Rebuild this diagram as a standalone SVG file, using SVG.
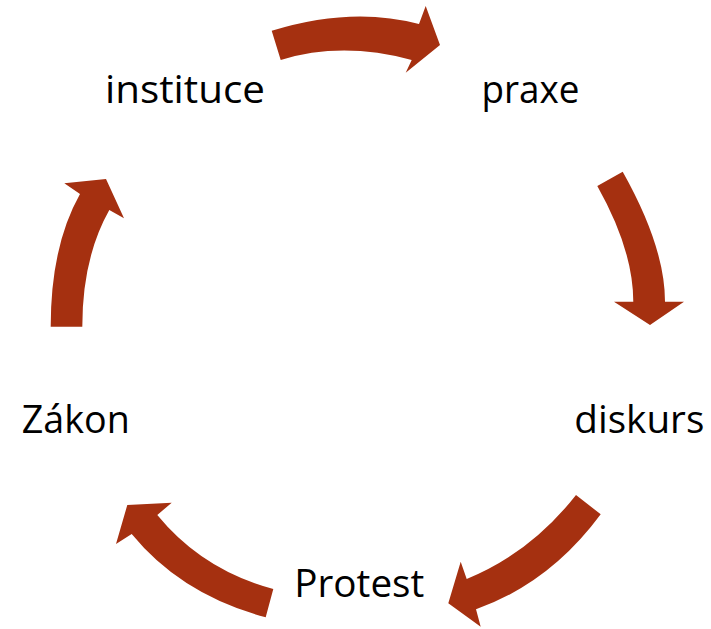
<svg xmlns="http://www.w3.org/2000/svg" width="711" height="629" viewBox="0 0 711 629">
<style>
.arrow{fill:#A53010;stroke:none}
.lbl{font-family:"Open Sans","Liberation Sans",sans-serif;font-size:39px;fill:#000;text-anchor:middle}
</style>
<rect width="711" height="629" fill="#fff"/>
<g id="connectors">
<path class="arrow" d="M271.7,30.7 Q352.1,6 419,24 L425.7,6 L440,45 L405.7,72.7 L411.7,60 Q341.9,41.2 280.7,60 Z"/>
<path class="arrow" d="M622.7,171.7 Q665,246.9 665,301.7 L684,301.7 L650,325 L614,301.7 L633.3,301.7 Q633.3,250 597.3,186 Z"/>
<path class="arrow" d="M576,495 L600.7,514.3 Q550,583 476,609.3 L480.7,626.7 L448.3,603.3 L460.7,561.7 L466.7,579 Q530.4,553.1 576,495 Z"/>
<path class="arrow" d="M273.3,589 L265.7,617.3 Q181.4,594.7 131.7,534 L116,544 L127.3,505 L171.7,502.7 L157.3,515 Q202.3,570 273.3,589 Z"/>
<path class="arrow" d="M50.7,326.7 L82.3,326.7 Q82.3,258 109.3,210 L124,218.3 L106,179 L64.3,183.3 L80,194 Q50.7,246 50.7,326.7 Z"/>
</g>
<g id="node-instituce"><text class="lbl" x="185" y="103" textLength="160" lengthAdjust="spacingAndGlyphs">instituce</text></g>
<g id="node-praxe"><text class="lbl" x="530.5" y="103" textLength="98" lengthAdjust="spacingAndGlyphs">praxe</text></g>
<g id="node-diskurs"><text class="lbl" x="639.3" y="433" textLength="130" lengthAdjust="spacingAndGlyphs">diskurs</text></g>
<g id="node-protest"><text class="lbl" x="359.3" y="597" textLength="130" lengthAdjust="spacingAndGlyphs">Protest</text></g>
<g id="node-zakon"><text class="lbl" x="75.8" y="433" textLength="108" lengthAdjust="spacingAndGlyphs">Zákon</text></g>
</svg>
